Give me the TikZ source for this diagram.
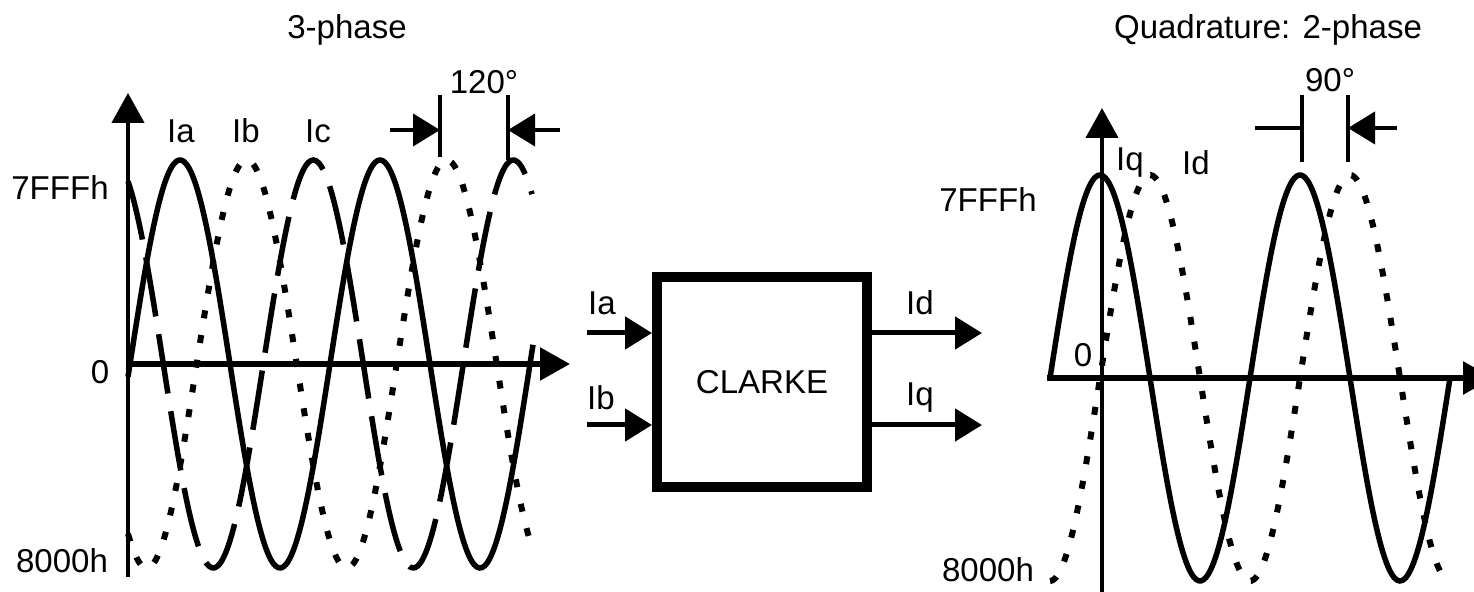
\documentclass[tikz,border=0pt]{standalone}
\usepackage{fontspec}
\setmainfont{Liberation Sans}
\usetikzlibrary{arrows.meta}

\begin{document}
\begin{tikzpicture}[x=0.1mm, y=0.1mm, font=\fontsize{9.4}{11}\selectfont,
        wave/.style={line width=0.55mm},
        wavedot/.style={line width=0.6mm, dash pattern=on 0.8mm off 1.7mm},
        wavedash/.style={line width=0.55mm, dash pattern=on 6mm off 1.8mm},
        axisline/.style={line width=0.45mm, -{Triangle[length=3mm,width=3.2mm]}},
        sigarrow/.style={line width=0.5mm, -{Triangle[length=2.7mm,width=3.2mm]}},
        dimline/.style={line width=0.4mm}]
        \useasboundingbox (0,0) rectangle (1474,592);

        % 3-phase: axes and the three currents
        \coordinate (ybot) at (128,15);
        \coordinate (ytop) at (128,499);
        \coordinate (xleft) at (128,228);
        \coordinate (xright) at (570,228);
        \draw[axisline] (ybot) -- (ytop);
        \draw[axisline, line width=0.55mm] (xleft) -- (xright);

        \draw[wave, domain=128:533, samples=160, smooth] plot (\x, {228+204*sin(1.8*(\x-130))});
        \draw[wavedot, domain=128:530, samples=160, smooth] plot (\x, {228+204*sin(1.8*(\x-196.7))});
        \draw[wavedash, domain=128:532, samples=160, smooth] plot (\x, {228+204*sin(1.8*(\x-263.3))});

        \node (title3) at (347,562) {3-phase};
        \node (max3) at (60,404) {7FFFh};
        \node (zero3) at (100,220) {0};
        \node (min3) at (62,31) {8000h};
        \node (lia) at (181,461) {Ia};
        \node (lib) at (246,461) {Ib};
        \node (lic) at (318,461) {Ic};

        % 120 degree mark
        \coordinate (t1a) at (440,435);
        \coordinate (t1b) at (440,497);
        \coordinate (t2a) at (508,432);
        \coordinate (t2b) at (508,497);
        \coordinate (d1) at (390,462);
        \coordinate (d2) at (560,462);
        \draw[dimline] (t1a) -- (t1b) (t2a) -- (t2b);
        \draw[sigarrow, line width=0.4mm] (d1) -- (d1 -| t1a);
        \draw[sigarrow, line width=0.4mm] (d2) -- (d2 -| t2a);
        \node (ang3) at (484,510) {120°};

        % Clarke block
        \node[draw, line width=1mm, minimum size=21mm, inner sep=0pt] (clarke) at (762,210) {CLARKE};
        \coordinate (ina) at (587,259);
        \coordinate (inb) at (587,167);
        \coordinate (outd) at (982,259);
        \coordinate (outq) at (982,167);
        \draw[sigarrow] (ina) -- (ina -| clarke.west);
        \draw[sigarrow] (inb) -- (inb -| clarke.west);
        \draw[sigarrow] (clarke.east |- outd) -- (outd);
        \draw[sigarrow] (clarke.east |- outq) -- (outq);
        \node (lina) at (602,289) {Ia};
        \node (linb) at (601,194) {Ib};
        \node (loutd) at (920,289) {Id};
        \node (loutq) at (920,194) {Iq};

        % Quadrature: axes and the two currents
        \coordinate (qybot) at (1102,0);
        \coordinate (qytop) at (1102,484);
        \coordinate (qxleft) at (1047,214);
        \coordinate (qxright) at (1493,214);
        \draw[axisline] (qybot) -- (qytop);
        \draw[axisline, line width=0.6mm] (qxleft) -- (qxright);

        \draw[wave, domain=1050:1450, samples=160, smooth] plot (\x, {214+203*sin(1.8*(\x-1050))});
        \draw[wavedot, domain=1050:1450, samples=160, smooth] plot (\x, {214+203*sin(1.8*(\x-1100))});

        \node (title2) at (1268,562) {Quadrature: 2-phase};
        \node (max2) at (988,392) {7FFFh};
        \node (zero2) at (1083,237) {0};
        \node (min2) at (988,22) {8000h};
        \node (liq) at (1130,429) {Iq};
        \node (lid) at (1196,429) {Id};

        % 90 degree mark
        \coordinate (q1a) at (1302,430);
        \coordinate (q1b) at (1302,497);
        \coordinate (q2a) at (1348,430);
        \coordinate (q2b) at (1348,497);
        \coordinate (e1) at (1255,464);
        \coordinate (e2) at (1397,464);
        \draw[dimline] (q1a) -- (q1b) (q2a) -- (q2b);
        \draw[dimline] (e1) -- (e1 -| q1a);
        \draw[sigarrow, line width=0.4mm] (e2) -- (e2 -| q2a);
        \node (ang2) at (1330,512) {90°};
    \end{tikzpicture}
\end{document}
